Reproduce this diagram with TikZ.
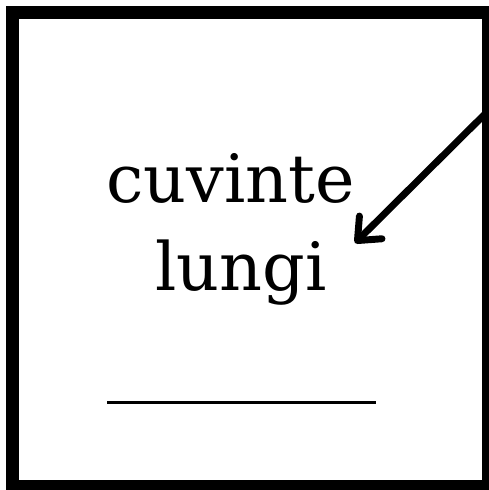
\documentclass[tikz,border=0pt]{standalone}
\usepackage{fontspec}
\setmainfont{DejaVu Serif}
\usepackage{tikz}
\usetikzlibrary{arrows.meta,positioning}
\definecolor{inkblack}{RGB}{0,0,0}

\tikzset{
  wordnode/.style={font=\fontsize{50}{52}\selectfont, inkblack, anchor=base, inner sep=0pt},
  frameline/.style={draw=inkblack, line width=9.4pt},
  pointer/.style={-{Straight Barb[length=14pt,width=24pt,round]}, line width=5.2pt, line cap=round, inkblack},
}

\begin{document}
\begin{tikzpicture}[x=0.75pt,y=-0.75pt]
  \useasboundingbox (0,0) rectangle (489,490);
  \fill[white] (0,0) rectangle (489,490);

  \draw[frameline] (12.5,12.5) rectangle (488,486);

  \node[wordnode] (upper) at (230.5,202) {cuvinte};
  \node[wordnode] (lower) at (241,290) {lungi};

  \coordinate (arrowstart) at (491,108);
  \coordinate (arrowtip) at (355,243);
  \draw[pointer] (arrowstart) -- (arrowtip);

  \draw[inkblack, line width=2.25pt] (107,402) -- (376,402);
\end{tikzpicture}
\end{document}
